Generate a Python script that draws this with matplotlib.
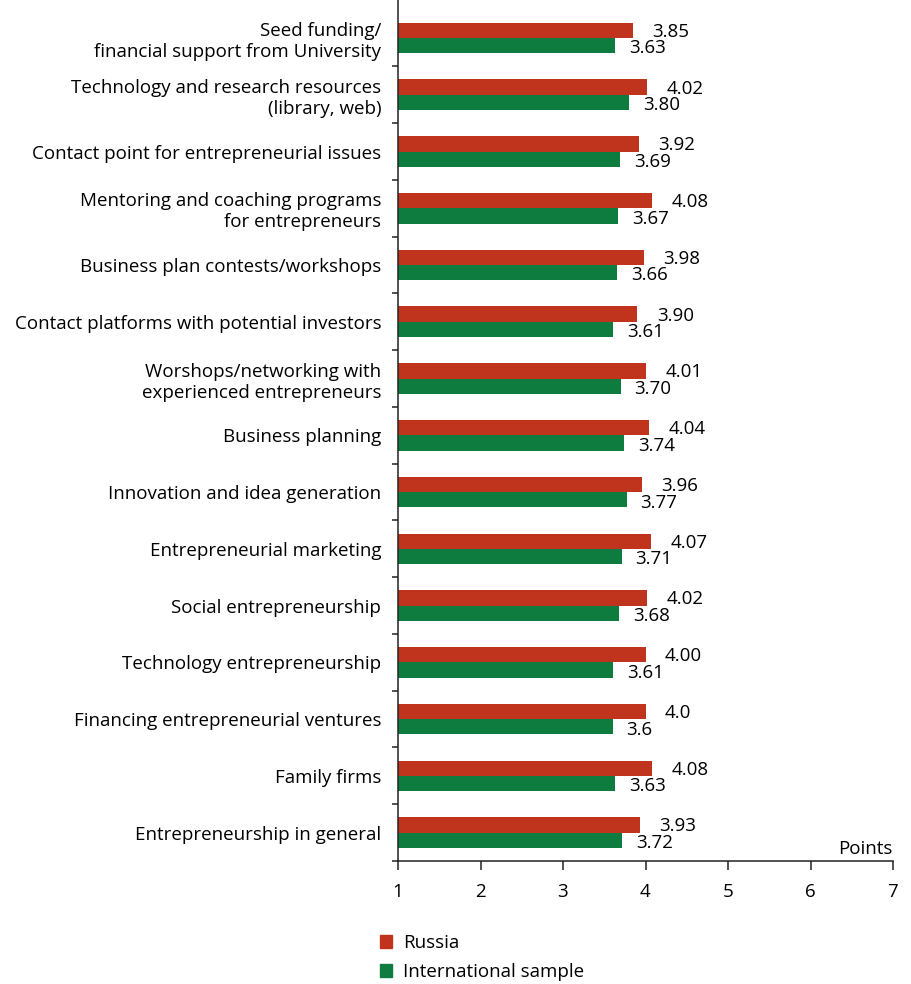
import numpy as np
import matplotlib.pyplot as plt
from matplotlib.patches import Patch

categories = [
    "Seed funding/\nfinancial support from University",
    "Technology and research resources\n(library, web)",
    "Contact point for entrepreneurial issues",
    "Mentoring and coaching programs\nfor entrepreneurs",
    "Business plan contests/workshops",
    "Contact platforms with potential investors",
    "Worshops/networking with\nexperienced entrepreneurs",
    "Business planning",
    "Innovation and idea generation",
    "Entrepreneurial marketing",
    "Social entrepreneurship",
    "Technology entrepreneurship",
    "Financing entrepreneurial ventures",
    "Family firms",
    "Entrepreneurship in general",
]
russia_lbl = ["3.85", "4.02", "3.92", "4.08", "3.98", "3.90", "4.01",
              "4.04", "3.96", "4.07", "4.02", "4.00", "4.0", "4.08", "3.93"]
intl_lbl = ["3.63", "3.80", "3.69", "3.67", "3.66", "3.61", "3.70",
            "3.74", "3.77", "3.71", "3.68", "3.61", "3.6", "3.63", "3.72"]

russia = [float(s) for s in russia_lbl]
intl = [float(s) for s in intl_lbl]

red = "#c0341d"
green = "#0e7c3e"
plt.rcParams['font.family'] = ['Open Sans', 'DejaVu Sans']
plt.rcParams['font.size'] = 13.5

fig = plt.figure(figsize=(9.11, 9.84), dpi=100)
ax = fig.add_axes([398/911, 1 - 861/984, 495/911, 861/984])

y = np.arange(len(categories))
h = 0.27
base = 1
ax.barh(y - h/2, np.array(russia) - base, left=base, height=h, color=red)
ax.barh(y + h/2, np.array(intl) - base, left=base, height=h, color=green)

for i in range(len(categories)):
    ax.annotate(russia_lbl[i], (russia[i], y[i] - h/2), xytext=(14, -1),
                textcoords='offset points', va='center', ha='left')
    ax.annotate(intl_lbl[i], (intl[i], y[i] + h/2), xytext=(10, -2),
                textcoords='offset points', va='center', ha='left')

ax.set_xlim(1, 7)
ax.set_ylim(len(categories) - 0.5, -0.67)
ax.set_xticks(range(1, 8))
ax.set_yticks(y)
ax.set_yticklabels(categories, ha='right', linespacing=1.22)
ax.set_yticks(np.arange(len(categories)) + 0.5, minor=True)
ax.tick_params(axis='y', which='major', length=0, pad=12)
ax.tick_params(axis='y', which='minor', length=4, width=1.1, color='#222222')
ax.tick_params(axis='x', length=6.5, width=1.1, pad=9, color='#222222')

for s in ['top', 'right']:
    ax.spines[s].set_visible(False)
for s in ['left', 'bottom']:
    ax.spines[s].set_linewidth(1.1)
    ax.spines[s].set_color('#222222')

ax.text(1.0, 0.003, "Points", transform=ax.transAxes, ha='right', va='bottom')

# legend below the axis
handles = [Patch(color=red, label="Russia"),
           Patch(color=green, label="International sample")]
fig.legend(handles=handles, loc='upper left', bbox_to_anchor=(363/911, 1 - 917/984),
           frameon=False, handlelength=0.65, handleheight=0.65, handletextpad=0.6,
           labelspacing=0.6)

fig.savefig("out.png", dpi=100)
